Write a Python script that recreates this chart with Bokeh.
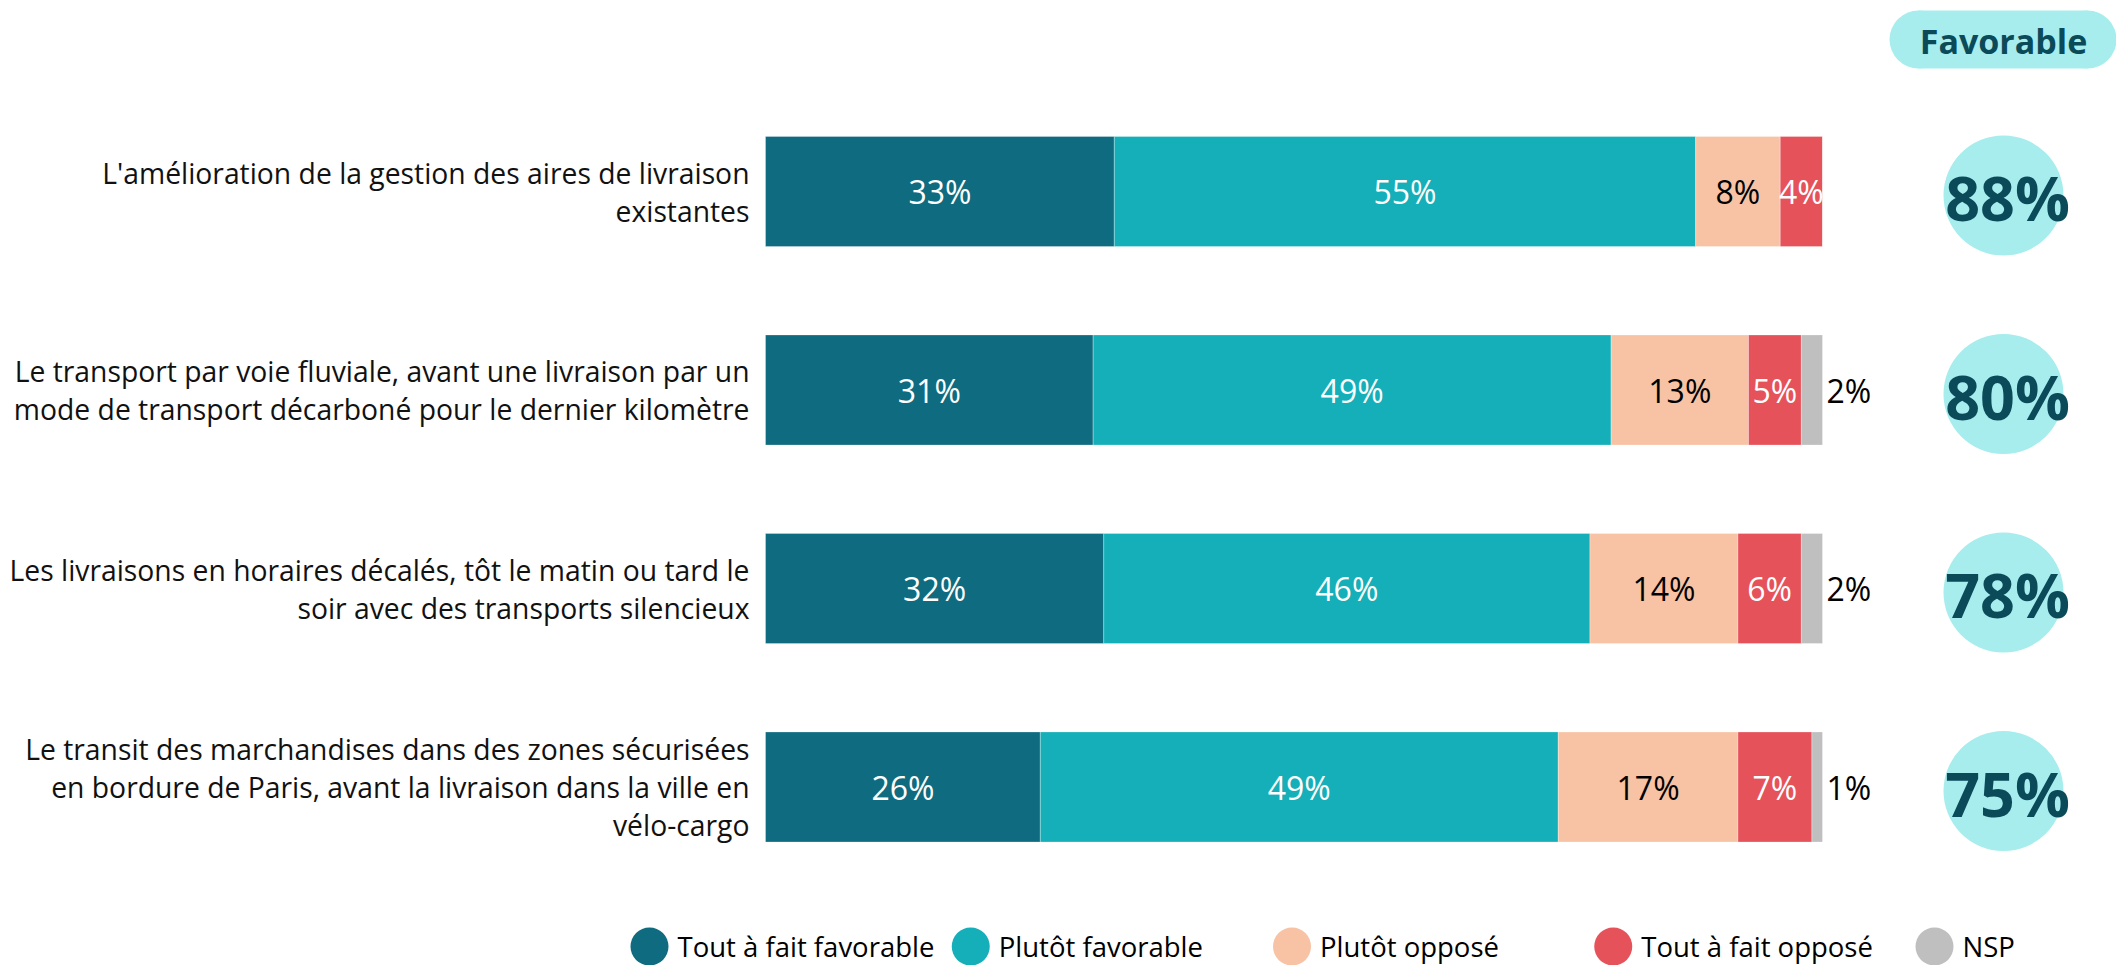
import numpy as np
from bokeh.plotting import figure
from bokeh.models import Range1d, ColumnDataSource
from bokeh.core.properties import value
from bokeh.embed import file_html
from bokeh.resources import INLINE

# ---------------- data ----------------
categories = [
    "L'amélioration de la gestion des aires de livraison\nexistantes",
    "Le transport par voie fluviale, avant une livraison par un\nmode de transport décarboné pour le dernier kilomètre",
    "Les livraisons en horaires décalés, tôt le matin ou tard le\nsoir avec des transports silencieux",
    "Le transit des marchandises dans des zones sécurisées\nen bordure de Paris, avant la livraison dans la ville en\nvélo-cargo",
]
tout_a_fait_favorable = [33, 31, 32, 26]
plutot_favorable = [55, 49, 46, 49]
plutot_oppose = [8, 13, 14, 17]
tout_a_fait_oppose = [4, 5, 6, 7]
nsp = [0, 2, 2, 1]
favorable_total = [88, 80, 78, 75]
series_names = ["Tout à fait favorable", "Plutôt favorable", "Plutôt opposé",
                "Tout à fait opposé", "NSP"]
header_label = "Favorable"

# ---------------- style ----------------
colors = ["#0e6b80", "#14afb8", "#f7c3a4", "#e6525a", "#bfbfbf"]
label_colors = ["white", "white", "black", "white", "black"]
LIGHT = "#a7eded"
DARK = "#0b4a59"
LABEL_FONT = "Open Sans"
NUM_FONT = "Open Sans"

W, H = 2116, 965
BAR_X0 = 765.0        # px of 0 %
PX_PER_PCT = 10.57
ROW0 = 191.0          # px of first row centre
ROW_STEP = 198.5


def xd(px):
    return (np.asarray(px, dtype=float) - BAR_X0) / PX_PER_PCT


def yd(py):
    return (np.asarray(py, dtype=float) - ROW0) / ROW_STEP


p = figure(width=W, height=H, output_backend="svg", toolbar_location=None,
           x_range=Range1d(float(xd(0)), float(xd(W))),
           y_range=Range1d(float(yd(H)), float(yd(0))),
           min_border=0, outline_line_color=None)
p.axis.visible = False
p.grid.visible = False
p.background_fill_color = "white"
p.border_fill_color = "white"

rows = np.arange(len(categories), dtype=float)
series = [tout_a_fait_favorable, plutot_favorable, plutot_oppose, tout_a_fait_oppose, nsp]

left = np.zeros(len(categories))
for i, vals in enumerate(series):
    v = np.array(vals, dtype=float)
    right = left + v
    src = ColumnDataSource(dict(y=rows, left=left, right=right))
    p.hbar(y="y", left="left", right="right", height=0.555, source=src,
           fill_color=colors[i], line_color="white", line_alpha=0.3, line_width=1)
    mask = v > 0
    labs = [f"{int(a)}%" for a in v[mask]]
    if i < 4:
        p.text(x=((left + right) / 2)[mask], y=rows[mask], text=labs,
               text_align="center", text_baseline="middle",
               text_font=value(NUM_FONT), text_font_size="32px",
               text_color=label_colors[i])
    else:
        p.text(x=right[mask], y=rows[mask], text=labs, x_offset=4,
               text_align="left", text_baseline="middle",
               text_font=value(NUM_FONT), text_font_size="32px",
               text_color=label_colors[i])
    left = right

# category labels
p.text(x=np.zeros(len(categories)), y=rows, text=categories, x_offset=-16,
       text_align="right", text_baseline="middle",
       text_font=value(LABEL_FONT), text_font_size="28.3px",
       text_line_height=1.0, text_color="#111111")

# favourable circles
p.scatter(x=np.full(len(rows), xd(2003)), y=rows + 4 / ROW_STEP, size=120,
          marker="circle", fill_color=LIGHT, line_color=None)
p.text(x=np.full(len(rows), xd(2007)), y=rows + 6 / ROW_STEP,
       text=[f"{v}%" for v in favorable_total],
       text_align="center", text_baseline="middle",
       text_font=value(NUM_FONT), text_font_style="bold",
       text_font_size="61px", text_color=DARK)

# header pill
pl, pr, pt, pb = 1889, 2116, 10, 68
rad = (pb - pt) / 2
p.quad(left=[xd(pl + rad)], right=[xd(pr - rad)], top=[yd(pt)], bottom=[yd(pb)],
       fill_color=LIGHT, line_color=None)
p.scatter(x=xd([pl + rad, pr - rad]), y=[yd((pt + pb) / 2)] * 2,
          size=pb - pt, marker="circle", fill_color=LIGHT, line_color=None)
p.text(x=[xd(2003)], y=[yd(40)], text=[header_label], text_align="center",
       text_baseline="middle", text_font=value(NUM_FONT),
       text_font_style="bold", text_font_size="34px", text_color=DARK)

# legend
leg_x = 649 + 321.25 * np.arange(len(series_names))
leg_y = float(yd(946))
p.scatter(x=xd(leg_x), y=np.full(len(leg_x), leg_y), size=38, marker="circle",
          fill_color=colors, line_color=None)
p.text(x=xd(leg_x), y=np.full(len(leg_x), leg_y), text=series_names, x_offset=28,
       text_align="left", text_baseline="middle",
       text_font=value(LABEL_FONT), text_font_size="27.5px", text_color="black")

open("out.html", "w").write(file_html(p, INLINE))
